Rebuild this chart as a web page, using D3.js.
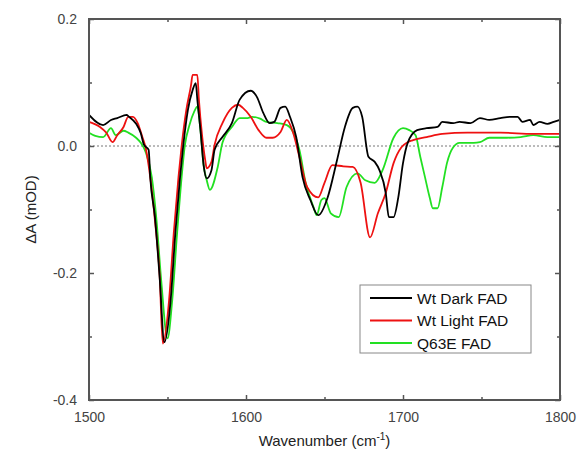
<!DOCTYPE html>
<html>
<head>
<meta charset="utf-8">
<script src="https://cdn.jsdelivr.net/npm/d3@7"></script>
<style>
  body { margin: 0; background: #fff; }
  svg { font-family: "Liberation Sans", Arial, sans-serif; }
</style>
</head>
<body>
<div id="chart"></div>
<script>
// wavenumber (cm-1) / dA (mOD)
var darkWn = [1500,1509,1514,1518,1524,1525,1530,1533,1535,1538,1539,1542,1545,1548,1552,1555,1558,1560,1563,1566,1568,1569,1571,1573,1575,1578,1580,1585,1591,1596,1603,1607,1611,1615,1618,1622,1625,1628,1632,1636,1641,1646,1652,1658,1663,1668,1671,1674,1678,1682,1685,1689,1691,1694,1697,1700,1703,1709,1715,1722,1725,1732,1736,1743,1749,1755,1762,1768,1773,1776,1781,1783,1787,1792,1796,1800];
var darkVal = [0.049,0.033,0.041,0.044,0.049,0.047,0.035,0.020,0.002,-0.006,-0.049,-0.112,-0.207,-0.309,-0.243,-0.137,-0.049,0.0,0.057,0.088,0.099,0.073,0.025,-0.030,-0.051,-0.038,-0.006,0.014,0.036,0.073,0.087,0.077,0.052,0.036,0.038,0.060,0.062,0.046,0.014,-0.049,-0.085,-0.109,-0.081,-0.022,0.030,0.060,0.062,0.046,-0.017,-0.025,-0.038,-0.074,-0.112,-0.112,-0.081,-0.027,0.005,0.025,0.028,0.030,0.038,0.036,0.038,0.036,0.044,0.041,0.044,0.046,0.046,0.038,0.041,0.033,0.038,0.035,0.038,0.041];

var lightWn = [1500,1507,1511,1515,1518,1522,1525,1528,1531,1534,1536,1539,1542,1545,1547,1551,1554,1557,1559,1562,1565,1566,1569,1570,1572,1574,1575,1578,1580,1585,1591,1595,1598,1603,1608,1613,1617,1622,1626,1630,1634,1639,1646,1650,1655,1662,1668,1673,1679,1684,1689,1694,1699,1703,1706,1715,1725,1741,1762,1783,1800];
var lightVal = [0.038,0.030,0.021,0.006,0.017,0.030,0.046,0.046,0.036,0.014,-0.002,-0.049,-0.117,-0.204,-0.311,-0.243,-0.137,-0.049,0.0,0.057,0.096,0.112,0.112,0.073,0.017,-0.022,-0.035,-0.025,0.002,0.036,0.060,0.065,0.060,0.046,0.025,0.013,0.013,0.022,0.041,0.021,-0.017,-0.065,-0.081,-0.058,-0.030,-0.032,-0.033,-0.058,-0.144,-0.106,-0.074,-0.027,-0.002,0.006,0.009,0.014,0.019,0.021,0.021,0.019,0.019];

var q63eWn = [1500,1504,1509,1514,1517,1522,1525,1530,1533,1536,1540,1543,1546,1550,1553,1556,1559,1561,1564,1567,1569,1571,1573,1575,1577,1582,1585,1591,1596,1601,1604,1609,1613,1620,1626,1630,1634,1638,1643,1645,1648,1650,1654,1659,1664,1671,1676,1682,1687,1694,1700,1704,1708,1711,1714,1717,1719,1722,1725,1728,1732,1736,1745,1749,1755,1766,1775,1783,1792,1800];
var q63eVal = [0.021,0.016,0.014,0.028,0.017,0.024,0.021,0.013,0.005,-0.009,-0.049,-0.117,-0.212,-0.303,-0.243,-0.141,-0.049,0.0,0.033,0.054,0.062,0.025,-0.030,-0.054,-0.069,-0.033,0.005,0.030,0.044,0.044,0.046,0.043,0.038,0.036,0.033,0.022,-0.006,-0.058,-0.096,-0.109,-0.085,-0.082,-0.106,-0.112,-0.065,-0.043,-0.054,-0.058,-0.038,0.013,0.028,0.025,0.017,-0.017,-0.049,-0.081,-0.098,-0.098,-0.065,-0.027,-0.002,0.005,0.005,0.006,0.013,0.013,0.014,0.017,0.014,0.014];

var seriesNames = ["Wt Dark FAD", "Wt Light FAD", "Q63E FAD"];
var seriesColors = ["#000000", "#ee1111", "#22e022"];
var xTicks = [1500, 1600, 1700, 1800];
var yTicks = [-0.4, -0.2, 0.0, 0.2];

var svgWidth = 577;
var svgHeight = 456;
var margin = { top: 19, right: 17, bottom: 56, left: 89 };
var width = svgWidth - margin.left - margin.right;
var height = svgHeight - margin.top - margin.bottom;

var svg = d3.select("#chart").append("svg")
  .attr("width", svgWidth)
  .attr("height", svgHeight);

var g = svg.append("g")
  .attr("transform", `translate(${margin.left}, ${margin.top})`);

var x = d3.scaleLinear().domain([1500, 1800]).range([0, width]);
var y = d3.scaleLinear().domain([-0.4, 0.2]).range([height, 0]);

var axisColor = "#555";

// zero line
g.append("line")
  .attr("x1", 0).attr("x2", width)
  .attr("y1", y(0)).attr("y2", y(0))
  .attr("stroke", "#777")
  .attr("stroke-width", 1)
  .attr("stroke-dasharray", "2,2");

var series = [
  { name: seriesNames[0], color: seriesColors[0], wn: darkWn, val: darkVal },
  { name: seriesNames[1], color: seriesColors[1], wn: lightWn, val: lightVal },
  { name: seriesNames[2], color: seriesColors[2], wn: q63eWn, val: q63eVal }
];

var line = d3.line()
  .x(d => x(d[0]))
  .y(d => y(d[1]))
  .curve(d3.curveMonotoneX);

// draw green, red, black order so black stays visible
[2, 1, 0].forEach(function(i) {
  var s = series[i];
  g.append("path")
    .datum(s.wn.map((w, k) => [w, s.val[k]]))
    .attr("fill", "none")
    .attr("stroke", s.color)
    .attr("stroke-width", 1.8)
    .attr("stroke-linejoin", "round")
    .attr("d", line);
});

// axes: ticks pointing inwards, mirrored on top and right
function styleAxis(sel) {
  sel.select(".domain").remove();
  sel.selectAll(".tick line").attr("stroke", axisColor).attr("stroke-width", 1.5);
  sel.selectAll(".tick text")
    .attr("fill", "#444")
    .style("font-size", "14px");
}

var xMinor = d3.range(1550, 1800, 100);
var yMinor = [-0.3, -0.1, 0.1];

var bottom = g.append("g")
  .attr("transform", `translate(0, ${height})`)
  .call(d3.axisBottom(x).tickValues(xTicks).tickSize(-5).tickPadding(12).tickFormat(d3.format("d")));
styleAxis(bottom);

g.append("g")
  .attr("transform", `translate(0, ${height})`)
  .call(d3.axisBottom(x).tickValues(xMinor).tickSize(-3).tickFormat(""))
  .call(styleAxis);

g.append("g")
  .call(d3.axisTop(x).tickValues(xTicks).tickSize(-5).tickFormat(""))
  .call(styleAxis);
g.append("g")
  .call(d3.axisTop(x).tickValues(xMinor).tickSize(-3).tickFormat(""))
  .call(styleAxis);

var left = g.append("g")
  .call(d3.axisLeft(y).tickValues(yTicks).tickSize(-5).tickPadding(12).tickFormat(d3.format(".1f")));
styleAxis(left);
left.selectAll(".tick text").text(d => d3.format(".1f")(d).replace("−", "-"));

g.append("g")
  .call(d3.axisLeft(y).tickValues(yMinor).tickSize(-3).tickFormat(""))
  .call(styleAxis);

g.append("g")
  .attr("transform", `translate(${width}, 0)`)
  .call(d3.axisRight(y).tickValues(yTicks).tickSize(-5).tickFormat(""))
  .call(styleAxis);
g.append("g")
  .attr("transform", `translate(${width}, 0)`)
  .call(d3.axisRight(y).tickValues(yMinor).tickSize(-3).tickFormat(""))
  .call(styleAxis);

// frame
g.append("rect")
  .attr("width", width)
  .attr("height", height)
  .attr("fill", "none")
  .attr("stroke", axisColor)
  .attr("stroke-width", 2);

// axis titles
var xTitle = svg.append("text")
  .attr("x", margin.left + width / 2)
  .attr("y", 446)
  .attr("text-anchor", "middle")
  .attr("fill", "#222")
  .style("font-size", "15px");
xTitle.append("tspan").text("Wavenumber (cm");
xTitle.append("tspan").attr("dy", -6).style("font-size", "10px").text("-1");
xTitle.append("tspan").attr("dy", 6).text(")");

svg.append("text")
  .attr("transform", `translate(36, ${margin.top + height / 2}) rotate(-90)`)
  .attr("text-anchor", "middle")
  .attr("fill", "#222")
  .style("font-size", "15px")
  .text("\u0394A (mOD)");

// legend
var legend = svg.append("g").attr("transform", "translate(360, 285)");
legend.append("rect")
  .attr("width", 171)
  .attr("height", 68)
  .attr("fill", "#fff")
  .attr("stroke", "#888")
  .attr("stroke-width", 1);

series.forEach(function(s, i) {
  var ly = 13 + i * 22.5;
  legend.append("line")
    .attr("x1", 10).attr("x2", 52)
    .attr("y1", ly).attr("y2", ly)
    .attr("stroke", s.color)
    .attr("stroke-width", 1.8);
  legend.append("text")
    .attr("x", 57)
    .attr("y", ly + 5.5)
    .attr("fill", "#111")
    .style("font-size", "15.5px")
    .text(s.name);
});
</script>
</body>
</html>
